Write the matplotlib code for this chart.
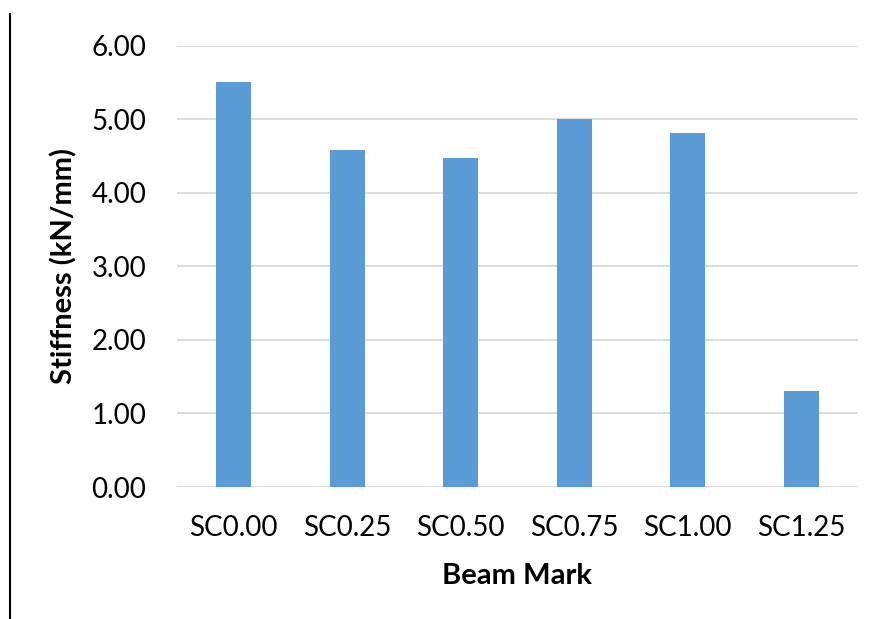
import matplotlib
matplotlib.use("Agg")
import matplotlib.pyplot as plt
from matplotlib.lines import Line2D

categories = ["SC0.00", "SC0.25", "SC0.50", "SC0.75", "SC1.00", "SC1.25"]
stiffness = [5.50, 4.58, 4.47, 5.01, 4.81, 1.31]
y_ticks = [0, 1, 2, 3, 4, 5, 6]

plt.rcParams["font.family"] = ["Lato", "DejaVu Sans"]

fig = plt.figure(figsize=(8.75, 6.19), dpi=100)
ax = fig.add_axes([177 / 875, 1 - 487 / 619, (858 - 177) / 875, (487 - 45.7) / 619])

x = range(len(categories))
ax.bar(x, stiffness, width=0.31, color="#5B9BD5", zorder=3)

ax.set_xlim(-0.5, len(categories) - 0.5)
ax.set_ylim(0, 6)
ax.set_yticks(y_ticks)
ax.set_yticklabels([f"{v:.2f}" for v in y_ticks])
ax.set_xticks(list(x))
ax.set_xticklabels(categories)

ax.grid(axis="y", color="#D9D9D9", linewidth=1.3, zorder=0)
for s in ax.spines.values():
    s.set_visible(False)
ax.tick_params(axis="both", length=0, labelsize=20, colors="black")
ax.tick_params(axis="y", pad=22)
ax.tick_params(axis="x", pad=20)

ax.set_ylabel("Stiffness (kN/mm)", fontsize=21, fontweight="bold")
ax.yaxis.label.set_verticalalignment("center")
ax.yaxis.set_label_coords((64 - 177) / 681, 0.5)
ax.set_xlabel("Beam Mark", fontsize=21, fontweight="bold")
ax.xaxis.label.set_verticalalignment("center")
ax.xaxis.set_label_coords(0.5, (487 - 576) / 441.3)

fig.add_artist(Line2D([10 / 875, 10 / 875], [0, 1 - 14 / 619],
                      transform=fig.transFigure, color="black", linewidth=1.5))

fig.savefig("out.png", dpi=100)
